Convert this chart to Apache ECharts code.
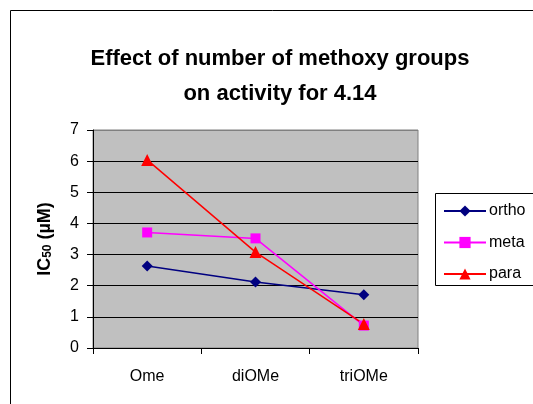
<!DOCTYPE html>
<html>
<head>
<meta charset="utf-8">
<script src="https://cdn.jsdelivr.net/npm/echarts@6/dist/echarts.min.js"></script>
<style>
  html, body { margin: 0; padding: 0; background: #ffffff; }
  #chart { width: 533px; height: 404px; }
</style>
</head>
<body>
<div id="chart"></div>
<script>
// Number of methoxy groups on the ring
const categories = ['Ome', 'diOMe', 'triOMe'];
// IC50 values (µM) per substitution position
const orthoValues = [2.63, 2.12, 1.71];
const metaValues = [3.71, 3.52, 0.72];
const paraValues = [6.04, 3.08, 0.77];
const yTicks = { min: 0, max: 7, step: 1 };

const FONT = '"Liberation Sans", Arial, sans-serif';

const chart = echarts.init(document.getElementById('chart'));

function lineSeries(name, data, color, symbol, size) {
  return {
    name: name,
    type: 'line',
    data: data,
    symbol: symbol,
    symbolSize: size,
    showSymbol: true,
    lineStyle: { color: color, width: 1.5 },
    itemStyle: { color: color, borderWidth: 0 },
    emphasis: { disabled: true },
    animation: false
  };
}

chart.setOption({
  animation: false,
  backgroundColor: '#ffffff',
  textStyle: { fontFamily: FONT },
  graphic: [
    // outer chart frame, running past the right and bottom edges
    {
      type: 'rect',
      shape: { x: 10.5, y: 10.5, width: 600, height: 500 },
      style: { fill: 'none', stroke: '#000000', lineWidth: 1 },
      z: -10
    },
    // legend frame, also clipped by the right edge
    {
      type: 'rect',
      shape: { x: 435.5, y: 193.5, width: 200, height: 92 },
      style: { fill: '#ffffff', stroke: '#000000', lineWidth: 1 },
      z: -5
    },
    {
      type: 'text',
      x: 280,
      y: 41,
      style: {
        text: 'Effect of number of methoxy groups\non activity for 4.14',
        align: 'center',
        verticalAlign: 'top',
        font: 'bold 22px ' + FONT,
        lineHeight: 35,
        fill: '#000000'
      }
    }
  ],
  grid: {
    left: 93,
    right: 115,
    top: 130,
    bottom: 56,
    show: true,
    backgroundColor: '#C0C0C0',
    borderColor: '#808080',
    borderWidth: 1
  },
  legend: {
    orient: 'vertical',
    left: 435,
    top: 193,
    padding: [10, 8, 6, 8],
    itemWidth: 42,
    itemHeight: 14,
    itemGap: 15.5,
    textStyle: { fontSize: 16, color: '#000000', fontFamily: FONT, padding: [0, 0, 0, -2] },
    data: ['ortho', 'meta', 'para']
  },
  xAxis: {
    type: 'category',
    data: categories,
    boundaryGap: true,
    axisLine: { lineStyle: { color: '#000000', width: 1 } },
    axisTick: { show: true, length: 6, lineStyle: { color: '#000000' } },
    axisLabel: { fontSize: 16, color: '#000000', margin: 21, fontFamily: FONT },
    splitLine: { show: false }
  },
  yAxis: {
    type: 'value',
    min: yTicks.min,
    max: yTicks.max,
    interval: yTicks.step,
    name: '{b|IC}{s|50}{b| (µM)}',
    nameLocation: 'middle',
    nameRotate: 90,
    nameGap: 39,
    nameTextStyle: {
      rich: {
        b: { fontSize: 18, fontWeight: 'bold', color: '#000000', fontFamily: FONT, verticalAlign: 'bottom', lineHeight: 20 },
        s: { fontSize: 12, fontWeight: 'bold', color: '#000000', fontFamily: FONT, verticalAlign: 'bottom', lineHeight: 17 }
      }
    },
    axisLine: { show: true, lineStyle: { color: '#000000', width: 1 } },
    axisTick: { show: true, length: 6, lineStyle: { color: '#000000' } },
    axisLabel: { fontSize: 16, color: '#000000', margin: 14, fontFamily: FONT },
    splitLine: {
      show: true,
      lineStyle: {
        color: ['#000000', '#000000', '#000000', '#000000', '#000000', '#000000', '#000000', '#808080'],
        width: 1
      }
    }
  },
  series: [
    lineSeries('ortho', orthoValues, '#000080', 'diamond', 11),
    lineSeries('meta', metaValues, '#FF00FF', 'rect', 10),
    lineSeries('para', paraValues, '#FF0000', 'triangle', 12)
  ]
});
</script>
</body>
</html>
